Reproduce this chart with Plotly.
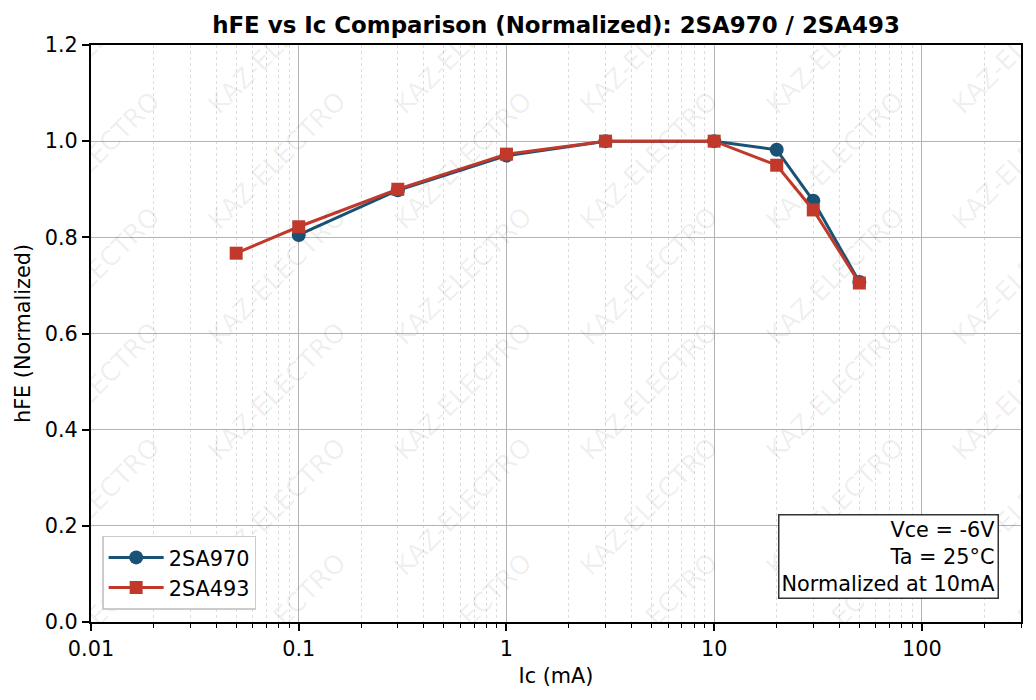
import plotly.graph_objects as go

# ---- data ----
ic_970 = [0.1, 0.3, 1, 3, 10, 20, 30, 50]
hfe_970 = [0.805, 0.898, 0.970, 1.0, 1.0, 0.982, 0.876, 0.707]
ic_493 = [0.05, 0.1, 0.3, 1, 3, 10, 20, 30, 50]
hfe_493 = [0.767, 0.822, 0.900, 0.973, 1.0, 1.0, 0.950, 0.857, 0.705]
x_tickvals = [0.01, 0.1, 1, 10, 100]
x_ticktext = ["0.01", "0.1", "1", "10", "100"]
y_tickvals = [0.0, 0.2, 0.4, 0.6, 0.8, 1.0, 1.2]
watermark_text = "KAZ-ELECTRO"
watermark_pos = [0.0, 0.2, 0.4, 0.6, 0.8, 1.0]

FONT = "DejaVu Sans"
BLUE = "#1a5276"
RED = "#c0392b"

fig = go.Figure()

fig.add_trace(go.Scatter(
    x=ic_970, y=hfe_970, name="2SA970", mode="lines+markers",
    line=dict(color=BLUE, width=3), marker=dict(symbol="circle", size=14, color=BLUE),
))
fig.add_trace(go.Scatter(
    x=ic_493, y=hfe_493, name="2SA493", mode="lines+markers",
    line=dict(color=RED, width=3), marker=dict(symbol="square", size=13, color=RED),
))

# watermark grid (clipped to plot area via bar text)
wx, wy = [], []
for fx in watermark_pos:
    for fy in watermark_pos:
        wx.append(fx)
        wy.append(fy)
fig.add_trace(go.Bar(
    x=wx, y=[0.01] * len(wx), base=[v - 0.005 for v in wy], width=0.01,
    xaxis="x2", yaxis="y2", orientation="v",
    text=[watermark_text] * len(wx), textposition="inside", insidetextanchor="middle",
    textangle=-45, constraintext="none", cliponaxis=True,
    textfont=dict(family=FONT, size=26, color="rgba(0,0,0,0.07)"),
    marker=dict(color="rgba(0,0,0,0)", line=dict(width=0)),
    hoverinfo="skip", showlegend=False,
))

fig.update_layout(
    width=1036, height=700,
    margin=dict(l=91, r=15, t=45, b=78),
    paper_bgcolor="white", plot_bgcolor="white",
    font=dict(family=FONT, size=20.8, color="black"),
    barmode="overlay",
    title=dict(
        text="<b>hFE vs Ic Comparison (Normalized): 2SA970 / 2SA493</b>",
        font=dict(family=FONT, size=22.9, color="black"),
        x=0.5, xref="paper", xanchor="center",
        y=1 - 25 / 700, yref="container", yanchor="middle",
    ),
    xaxis=dict(
        type="log", range=[-2, 2.4771],
        tickvals=x_tickvals, ticktext=x_ticktext,
        ticks="outside", ticklen=7, tickwidth=1.5, tickcolor="black",
        showline=True, linecolor="black", linewidth=2, mirror=True,
        showgrid=True, gridcolor="#b3b3b3", gridwidth=1,
        zeroline=False,
        minor=dict(dtick="D1", ticks="outside", ticklen=4, tickwidth=1, tickcolor="black",
                   showgrid=True, gridcolor="#dcdcdc", griddash="dot", gridwidth=1),
        title=dict(text="Ic (mA)", standoff=8, font=dict(size=20.8)),
        tickfont=dict(size=20.8),
    ),
    yaxis=dict(
        range=[0, 1.2], tickvals=y_tickvals, tickformat=".1f",
        ticks="outside", ticklen=7, tickwidth=1.5, tickcolor="black",
        showline=True, linecolor="black", linewidth=2, mirror=True,
        showgrid=True, gridcolor="#b3b3b3", gridwidth=1,
        zeroline=False,
        title=dict(text="hFE (Normalized)", standoff=8, font=dict(size=20.8)),
        tickfont=dict(size=20.8),
    ),
    xaxis2=dict(overlaying="x", range=[0, 1], visible=False, fixedrange=True),
    yaxis2=dict(overlaying="y", range=[0, 1], visible=False, fixedrange=True),
    legend=dict(
        x=0.012, y=0.021, xanchor="left", yanchor="bottom",
        bgcolor="white", bordercolor="#cccccc", borderwidth=1.5,
        font=dict(family=FONT, size=20.8), itemwidth=55, tracegroupgap=0,
    ),
    showlegend=True,
    annotations=[dict(
        text="Vce = -6V<br>Ta = 25°C<br>Normalized at 10mA",
        xref="paper", yref="paper", x=0.9765, y=0.04,
        xanchor="right", yanchor="bottom", align="right", showarrow=False,
        font=dict(family=FONT, size=20.8, color="black"),
        bgcolor="white", bordercolor="#333333", borderwidth=1.5, borderpad=2,
    )],
)

fig.write_html("out.html", config={"displayModeBar": False},
               post_script="document.body.style.margin='0';")
